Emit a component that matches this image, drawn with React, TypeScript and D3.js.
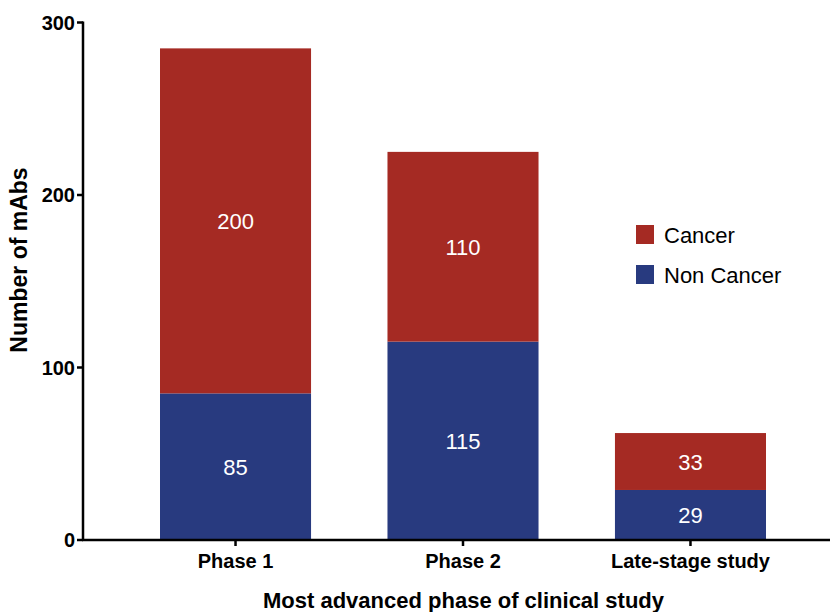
import * as d3 from "d3";

const WIDTH = 830;
const HEIGHT = 612;

const phases = ["Phase 1", "Phase 2", "Late-stage study"];
const nonCancer = [85, 115, 29];
const cancer = [200, 110, 33];
const yTicks = [0, 100, 200, 300];
const seriesNames = ["Cancer", "Non Cancer"];

const RED = "#a52a23";
const BLUE = "#283a7f";
const FONT = "Liberation Sans, Arial, sans-serif";

export default function App() {
  const x0 = 83;
  const y0 = 540;

  const xScale = d3
    .scaleBand()
    .domain(phases)
    .range([x0, 843])
    .paddingInner(0.336)
    .paddingOuter(0.3385);
  const yScale = d3.scaleLinear().domain([0, 300]).range([y0, 22.5]);

  const rows = phases.map((p, i) => ({ phase: p, nonCancer: nonCancer[i], cancer: cancer[i] }));
  const stack = d3.stack<any>().keys(["nonCancer", "cancer"])(rows);
  const colors: Record<string, string> = { nonCancer: BLUE, cancer: RED };

  const bars = stack.flatMap((layer) =>
    layer.map((d, i) => {
      const bx = xScale(phases[i]) as number;
      const top = yScale(d[1]);
      const bottom = yScale(d[0]);
      return (
        <g key={layer.key + i}>
          <rect x={bx} y={top} width={xScale.bandwidth()} height={bottom - top} fill={colors[layer.key]} />
          <text
            x={bx + xScale.bandwidth() / 2}
            y={(top + bottom) / 2 + 1}
            textAnchor="middle"
            dominantBaseline="central"
            fill="white"
            fontSize={22}
            fontFamily={FONT}
          >
            {d[1] - d[0]}
          </text>
        </g>
      );
    })
  );

  return (
    <div style={{ position: "absolute", left: 0, top: 0 }}>
      <svg width={WIDTH} height={HEIGHT} style={{ display: "block", background: "white" }}>
        {bars}

        {/* y axis */}
        <line x1={x0} x2={x0} y1={yScale(300) - 1} y2={y0 + 1} stroke="black" strokeWidth={2.5} />
        {yTicks.map((t) => (
          <g key={t} transform={`translate(0,${yScale(t)})`}>
            <line x1={x0 - 6} x2={x0} stroke="black" strokeWidth={2.5} />
            <text
              x={x0 - 8}
              textAnchor="end"
              dominantBaseline="central"
              fontSize={20}
              fontWeight="bold"
              fontFamily={FONT}
            >
              {t}
            </text>
          </g>
        ))}

        {/* x axis */}
        <line x1={x0 - 1} x2={WIDTH} y1={y0} y2={y0} stroke="black" strokeWidth={2.5} />
        {phases.map((p) => {
          const cx = (xScale(p) as number) + xScale.bandwidth() / 2;
          return (
            <g key={p} transform={`translate(${cx},${y0})`}>
              <line y1={0} y2={6} stroke="black" strokeWidth={2.5} />
              <text y={28} textAnchor="middle" fontSize={20} fontWeight="bold" fontFamily={FONT}>
                {p}
              </text>
            </g>
          );
        })}

        <text
          x={463.5}
          y={608}
          textAnchor="middle"
          fontSize={22}
          fontWeight="bold"
          fontFamily={FONT}
        >
          Most advanced phase of clinical study
        </text>
        <text
          transform="translate(27,260) rotate(-90)"
          textAnchor="middle"
          fontSize={23}
          fontWeight="bold"
          fontFamily={FONT}
        >
          Number of mAbs
        </text>

        {/* legend */}
        {seriesNames.map((s, i) => (
          <g key={s} transform={`translate(636,${225 + i * 40})`}>
            <rect width={18} height={19} fill={i === 0 ? RED : BLUE} />
            <text x={28} y={18} fontSize={22} fontFamily={FONT}>
              {s}
            </text>
          </g>
        ))}
      </svg>
    </div>
  );
}
